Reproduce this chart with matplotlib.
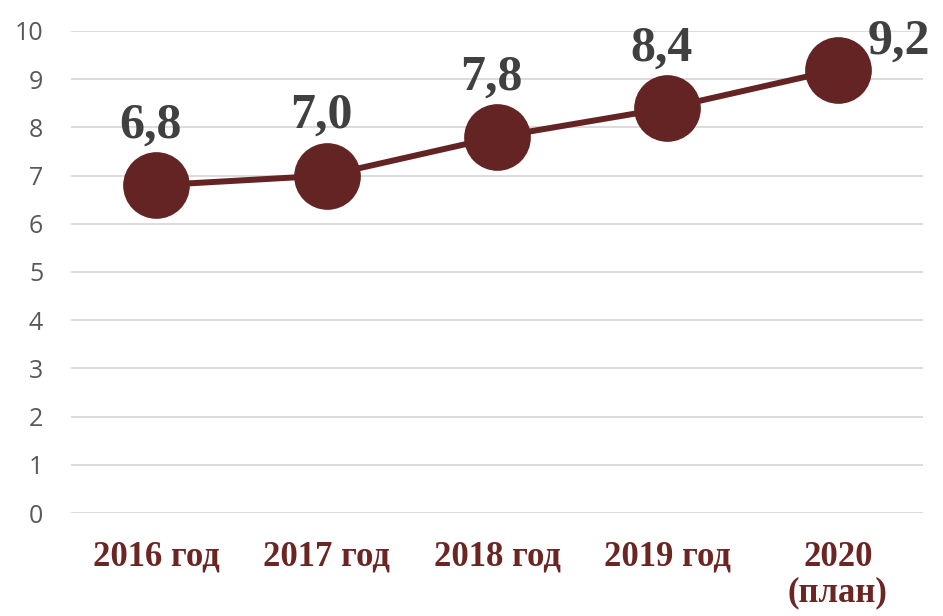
import matplotlib
matplotlib.use('Agg')
import matplotlib.pyplot as plt

# данные
categories = ['2016 год', '2017 год', '2018 год', '2019 год', '2020\n(план)']
values = [6.8, 7.0, 7.8, 8.4, 9.2]
value_labels = ['6,8', '7,0', '7,8', '8,4', '9,2']
y_ticks = [0, 1, 2, 3, 4, 5, 6, 7, 8, 9, 10]

DARK_RED = '#632423'
LABEL_RED = '#6B2623'

fig = plt.figure(figsize=(9.43, 6.16), dpi=100)
ax = fig.add_axes([0.0753, 0.1672, 0.9035, 0.7825])

x = list(range(len(categories)))
ax.plot(x, values, color=DARK_RED, linewidth=4.3, marker='o', markersize=47,
        markerfacecolor=DARK_RED, markeredgecolor=DARK_RED, zorder=3)

for i, (v, lab) in enumerate(zip(values, value_labels)):
    if i == len(values) - 1:
        off = (44, 20)
    else:
        off = (-4, 43)
    ax.annotate(lab, (i, v), xytext=off, textcoords='offset points',
                ha='center', va='center', fontsize=36, fontweight='bold',
                family='Liberation Serif', color='#404040', zorder=4)

ax.set_xlim(-0.5, len(categories) - 0.5)
ax.set_ylim(0, 10)
ax.set_yticks(y_ticks)
ax.set_yticklabels([str(t) for t in y_ticks], fontsize=18, color='#595959',
                   family='Open Sans')
ax.set_xticks(x)
ax.set_xticklabels(categories, fontsize=25, fontweight='bold',
                   family='Liberation Serif', color=LABEL_RED, linespacing=1.1)
ax.tick_params(axis='y', length=0, pad=20)
ax.tick_params(axis='x', length=0, pad=20)
for lbl in ax.get_xticklabels():
    lbl.set_verticalalignment('top')

ax.grid(axis='y', color='#D9D9D9', linewidth=1.3)
ax.set_axisbelow(True)
for s in ax.spines.values():
    s.set_visible(False)

fig.savefig('out.png', dpi=100)
